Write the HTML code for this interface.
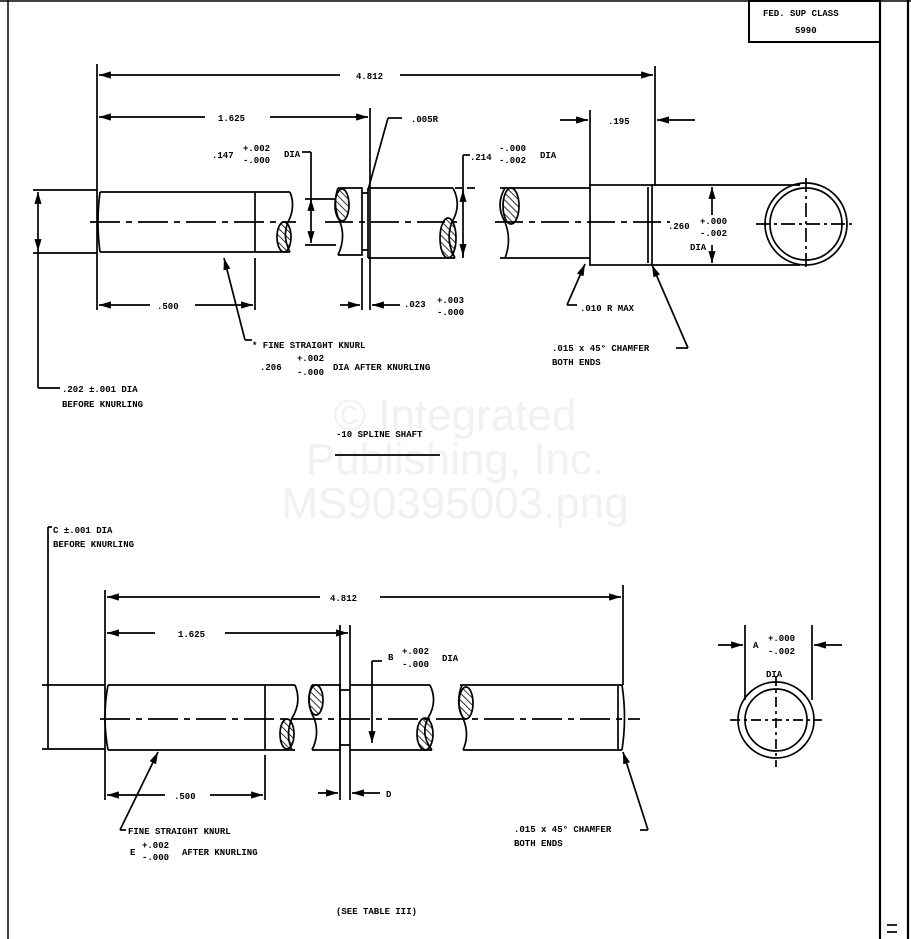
<!DOCTYPE html>
<html><head><meta charset="utf-8"><style>
html,body{margin:0;padding:0;background:#fff}
svg{display:block}
text{font-family:"Liberation Mono",monospace;font-size:9px;fill:#000;font-weight:600}
.wm{font-family:"Liberation Sans",sans-serif;font-size:44px;fill:#f1f1f1;font-weight:normal}
</style></head><body>
<svg width="911" height="939" viewBox="0 0 911 939" xmlns="http://www.w3.org/2000/svg">
<defs>
<marker id="a" viewBox="0 0 10 6" refX="10" refY="3" markerWidth="7" markerHeight="4.5" orient="auto-start-reverse"><path d="M0,0L10,3L0,6z" fill="#000"/></marker>
<pattern id="h" width="5" height="5" patternUnits="userSpaceOnUse" patternTransform="rotate(-45)"><line x1="0" y1="0" x2="0" y2="5" stroke="#000" stroke-width="1.6"/></pattern>
</defs>
<text class="wm" x="455" y="430" text-anchor="middle">© Integrated</text>
<text class="wm" x="455" y="474" text-anchor="middle">Publishing, Inc.</text>
<text class="wm" x="455" y="518" text-anchor="middle">MS90395003.png</text>
<g stroke="#000" fill="none" stroke-width="1.5">
<line x1="8" y1="0" x2="8" y2="939"/>
<line x1="880" y1="0" x2="880" y2="939" stroke-width="2.2"/>
<line x1="908" y1="0" x2="908" y2="939" stroke-width="2.2"/>
<line x1="0" y1="1" x2="911" y2="1"/>
<rect x="749" y="1" width="131" height="41" stroke-width="2"/>
</g>
<text x="763" y="16" font-size="8">FED. SUP CLASS</text>
<text x="795" y="33" font-size="8">5990</text>

<g stroke="#000" fill="none" stroke-width="1.7">
<line x1="97" y1="64" x2="97" y2="310"/>
<line x1="655" y1="66" x2="655" y2="186"/>
<line x1="99" y1="75" x2="340" y2="75" marker-start="url(#a)"/>
<line x1="400" y1="75" x2="653" y2="75" marker-end="url(#a)"/>
<line x1="99" y1="117" x2="205" y2="117" marker-start="url(#a)"/>
<line x1="270" y1="117" x2="368" y2="117" marker-end="url(#a)"/>
<line x1="370" y1="108" x2="370" y2="310"/>
<line x1="590" y1="110" x2="590" y2="186"/>
<line x1="560" y1="120" x2="588" y2="120" marker-end="url(#a)"/>
<line x1="695" y1="120" x2="657" y2="120" marker-end="url(#a)"/>
<line x1="33" y1="190" x2="97" y2="190"/>
<line x1="33" y1="253" x2="97" y2="253"/>
<line x1="38" y1="192" x2="38" y2="251" marker-start="url(#a)" marker-end="url(#a)"/>
<line x1="38" y1="251" x2="38" y2="388"/>
<line x1="38" y1="388" x2="60" y2="388"/>
<path d="M100,192 H290 M100,252 H290 M100,192 Q96,222 100,252 M255,192 V252"/>
<path d="M290,192 Q296,207 288,222 Q282,237 290,252" />
<ellipse cx="284" cy="237" rx="7" ry="15" fill="url(#h)"/>
<line x1="90" y1="222" x2="296" y2="222" stroke-dasharray="30,6,6,6"/>
<path d="M338,188 H362 V255 H338 M338,188 Q332,205 340,222 Q346,238 338,255"/>
<ellipse cx="342" cy="205" rx="7" ry="16" fill="url(#h)"/>
<path d="M362,193 H368 M362,250 H368"/>
<line x1="305" y1="199" x2="336" y2="199"/><line x1="305" y1="245" x2="336" y2="245"/>
<line x1="311" y1="152" x2="311" y2="243" marker-end="url(#a)"/>
<line x1="311" y1="199" x2="311" y2="201" marker-start="url(#a)"/>
<line x1="302" y1="152" x2="311" y2="152"/>
<path d="M368,188 H453 M368,258 H455 M368,188 V258 M453,188 Q462,205 452,222 Q445,240 455,258"/>
<ellipse cx="448" cy="238" rx="8" ry="20" fill="url(#h)"/>
<line x1="325" y1="222" x2="462" y2="222" stroke-dasharray="28,6,6,6"/>
<line x1="368" y1="190" x2="388" y2="118"/><line x1="388" y1="118" x2="402" y2="118"/>
<line x1="463" y1="155" x2="463" y2="258"/>
<line x1="463" y1="155" x2="470" y2="155"/>
<line x1="455" y1="188" x2="475" y2="188" stroke-dasharray="8,4"/>
<line x1="463" y1="192" x2="463" y2="190" marker-end="url(#a)"/>
<line x1="463" y1="254" x2="463" y2="256" marker-end="url(#a)"/>
<path d="M500,188 H590 M500,258 H590 M505,188 Q495,205 505,222 Q512,240 505,258"/>
<ellipse cx="511" cy="206" rx="8" ry="18" fill="url(#h)"/>
<rect x="590" y="185" width="62" height="80"/>
<line x1="648" y1="187" x2="648" y2="263"/>
<line x1="495" y1="222" x2="670" y2="222" stroke-dasharray="28,6,6,6"/>
<path d="M652,185 H800 M652,265 H800"/>
<line x1="712" y1="187" x2="712" y2="215" marker-start="url(#a)"/>
<line x1="712" y1="245" x2="712" y2="263" marker-end="url(#a)"/>
<circle cx="806" cy="224" r="41"/><circle cx="806" cy="224" r="36"/>
<line x1="756" y1="224" x2="856" y2="224" stroke-dasharray="14,4,3,4"/>
<line x1="806" y1="178" x2="806" y2="270" stroke-dasharray="14,4,3,4"/>
<line x1="255" y1="258" x2="255" y2="310"/>
<line x1="99" y1="305" x2="150" y2="305" marker-start="url(#a)"/>
<line x1="195" y1="305" x2="253" y2="305" marker-end="url(#a)"/>
<line x1="362" y1="258" x2="362" y2="310"/>
<line x1="340" y1="305" x2="360" y2="305" marker-end="url(#a)"/>
<line x1="400" y1="305" x2="372" y2="305" marker-end="url(#a)"/>
<line x1="224" y1="258" x2="245" y2="340" marker-start="url(#a)"/><line x1="245" y1="340" x2="252" y2="340"/>
<line x1="585" y1="264" x2="567" y2="305" marker-start="url(#a)"/><line x1="567" y1="305" x2="577" y2="305"/>
<line x1="652" y1="265" x2="688" y2="348" marker-start="url(#a)"/><line x1="688" y1="348" x2="676" y2="348"/>
<line x1="335" y1="455" x2="440" y2="455"/>

<line x1="48" y1="527" x2="48" y2="748"/>
<line x1="48" y1="527" x2="52" y2="527"/>
<line x1="42" y1="685" x2="105" y2="685"/><line x1="42" y1="749" x2="105" y2="749"/>
<line x1="105" y1="590" x2="105" y2="800"/>
<line x1="623" y1="585" x2="623" y2="685"/>
<line x1="107" y1="597" x2="320" y2="597" marker-start="url(#a)"/>
<line x1="380" y1="597" x2="621" y2="597" marker-end="url(#a)"/>
<line x1="107" y1="633" x2="155" y2="633" marker-start="url(#a)"/>
<line x1="225" y1="633" x2="348" y2="633" marker-end="url(#a)"/>
<line x1="350" y1="625" x2="350" y2="800"/>
<line x1="340" y1="625" x2="340" y2="800"/>
<path d="M108,685 H295 M108,750 H295 M108,685 Q102,717 108,750 M265,685 V750"/>
<path d="M295,685 Q302,702 292,718 Q285,735 292,750"/>
<ellipse cx="287" cy="734" rx="7" ry="15" fill="url(#h)"/>
<path d="M312,685 H340 V750 H312 M312,685 Q305,702 314,718 Q320,734 312,750"/>
<ellipse cx="316" cy="700" rx="7" ry="15" fill="url(#h)"/>
<path d="M340,690 H350 M340,745 H350 M350,685 H430 M350,750 H432 M430,685 Q438,702 428,718 Q420,735 432,750"/>
<ellipse cx="425" cy="734" rx="8" ry="16" fill="url(#h)"/>
<path d="M460,685 H622 M463,750 H622 M622,685 Q627,717 622,750 M618,686 V749 M462,685 Q455,702 463,718 Q470,735 463,750"/>
<ellipse cx="466" cy="703" rx="7" ry="16" fill="url(#h)"/>
<line x1="100" y1="719" x2="640" y2="719" stroke-dasharray="30,6,6,6"/>
<line x1="372" y1="661" x2="372" y2="743" marker-end="url(#a)"/>
<line x1="372" y1="661" x2="382" y2="661"/>
<line x1="265" y1="755" x2="265" y2="800"/>
<line x1="107" y1="795" x2="165" y2="795" marker-start="url(#a)"/>
<line x1="210" y1="795" x2="263" y2="795" marker-end="url(#a)"/>
<line x1="318" y1="793" x2="338" y2="793" marker-end="url(#a)"/>
<line x1="380" y1="793" x2="352" y2="793" marker-end="url(#a)"/>
<line x1="158" y1="752" x2="120" y2="830" marker-start="url(#a)"/><line x1="120" y1="830" x2="126" y2="830"/>
<line x1="623" y1="752" x2="648" y2="830" marker-start="url(#a)"/><line x1="648" y1="830" x2="640" y2="830"/>
<circle cx="776" cy="720" r="38"/><circle cx="776" cy="720" r="31"/>
<line x1="730" y1="720" x2="822" y2="720" stroke-dasharray="10,4,3,4"/>
<line x1="776" y1="676" x2="776" y2="767" stroke-dasharray="10,4,3,4"/>
<line x1="745" y1="625" x2="745" y2="700"/><line x1="812" y1="625" x2="812" y2="700"/>
<line x1="718" y1="645" x2="743" y2="645" marker-end="url(#a)"/>
<line x1="842" y1="645" x2="814" y2="645" marker-end="url(#a)"/>
<line x1="887" y1="925" x2="897" y2="925"/><line x1="887" y1="932" x2="897" y2="932"/>
</g>

<text x="356" y="79">4.812</text>
<text x="218" y="121">1.625</text>
<text x="608" y="124">.195</text>
<text x="411" y="122">.005R</text>
<text x="212" y="158">.147</text>
<text x="243" y="151" font-size="8">+.002</text>
<text x="243" y="163" font-size="8">-.000</text>
<text x="284" y="157">DIA</text>
<text x="470" y="160">.214</text>
<text x="499" y="151" font-size="8">-.000</text>
<text x="499" y="163" font-size="8">-.002</text>
<text x="540" y="158">DIA</text>
<text x="668" y="229">.260</text>
<text x="700" y="224" font-size="8">+.000</text>
<text x="700" y="236" font-size="8">-.002</text>
<text x="690" y="250">DIA</text>
<text x="157" y="309">.500</text>
<text x="404" y="307">.023</text>
<text x="437" y="303" font-size="8">+.003</text>
<text x="437" y="315" font-size="8">-.000</text>
<text x="580" y="311">.010 R MAX</text>
<text x="252" y="348">* FINE STRAIGHT KNURL</text>
<text x="260" y="370">.206</text>
<text x="297" y="361" font-size="8">+.002</text>
<text x="297" y="375" font-size="8">-.000</text>
<text x="333" y="370">DIA AFTER KNURLING</text>
<text x="552" y="351">.015 x 45° CHAMFER</text>
<text x="552" y="365">BOTH ENDS</text>
<text x="62" y="392">.202 ±.001 DIA</text>
<text x="62" y="407">BEFORE KNURLING</text>
<text x="336" y="437">-10 SPLINE SHAFT</text>

<text x="53" y="533">C ±.001 DIA</text>
<text x="53" y="547">BEFORE KNURLING</text>
<text x="330" y="601">4.812</text>
<text x="178" y="637">1.625</text>
<text x="388" y="660">B</text>
<text x="402" y="654" font-size="8">+.002</text>
<text x="402" y="667" font-size="8">-.000</text>
<text x="442" y="661">DIA</text>
<text x="174" y="799">.500</text>
<text x="386" y="797">D</text>
<text x="128" y="834">FINE STRAIGHT KNURL</text>
<text x="130" y="855">E</text>
<text x="142" y="848" font-size="8">+.002</text>
<text x="142" y="860" font-size="8">-.000</text>
<text x="182" y="855">AFTER KNURLING</text>
<text x="514" y="832">.015 x 45° CHAMFER</text>
<text x="514" y="846">BOTH ENDS</text>
<text x="753" y="648">A</text>
<text x="768" y="641" font-size="8">+.000</text>
<text x="768" y="654" font-size="8">-.002</text>
<text x="766" y="677">DIA</text>
<text x="336" y="914">(SEE TABLE III)</text>
</svg>
</body></html>
